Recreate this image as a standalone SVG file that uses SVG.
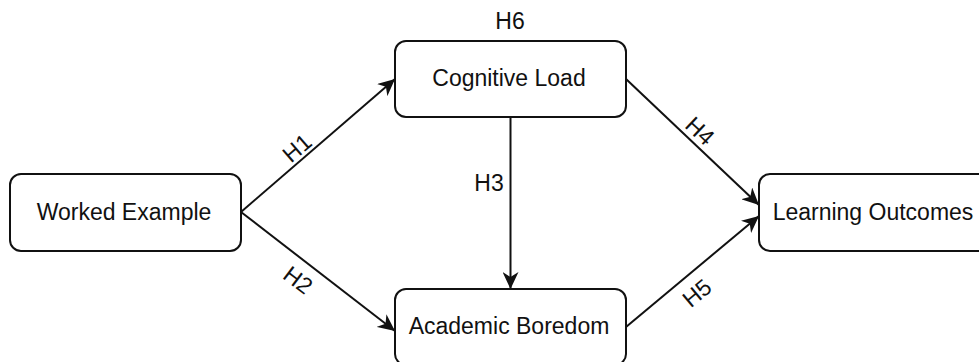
<svg xmlns="http://www.w3.org/2000/svg" width="979" height="362" viewBox="0 0 979 362">
<style>
.box{fill:#fff;stroke:#111;stroke-width:2}
.t{font-family:"Liberation Sans",Arial,sans-serif;font-size:23px;fill:#111;text-anchor:middle}
.e{stroke:#111;stroke-width:2;fill:none;marker-end:url(#arr)}
</style>
<defs>
<marker id="arr" markerUnits="userSpaceOnUse" markerWidth="18" markerHeight="16" viewBox="0 0 18 16" refX="17" refY="8" orient="auto">
<path d="M0,0 L17,8 L0,16 L5,8 Z" fill="#111"/>
</marker>
</defs>
<rect width="979" height="362" fill="#fff"/>
<g id="connectors">
<line class="e" x1="241" y1="212" x2="395" y2="79"/>
<line class="e" x1="241" y1="212" x2="395" y2="331"/>
<line class="e" x1="510.5" y1="117" x2="510.5" y2="289"/>
<line class="e" x1="626" y1="79" x2="759" y2="205"/>
<line class="e" x1="626" y1="327" x2="759" y2="216"/>
<text class="t" transform="translate(297,148) rotate(-40.8)" y="8">H1</text>
<text class="t" transform="translate(298,280) rotate(37.5)" y="8">H2</text>
<text class="t" x="489" y="191">H3</text>
<text class="t" transform="translate(700,131) rotate(43.5)" y="8">H4</text>
<text class="t" transform="translate(697,293) rotate(-39.8)" y="8">H5</text>
</g>
<g id="worked-example">
<rect class="box" x="10" y="174" width="231" height="77" rx="11"/>
<text class="t" x="124" y="220">Worked Example</text>
</g>
<g id="cognitive-load">
<rect class="box" x="395" y="41" width="231" height="76" rx="11"/>
<text class="t" x="509" y="86">Cognitive Load</text>
<text class="t" x="510" y="29">H6</text>
</g>
<g id="academic-boredom">
<rect class="box" x="395" y="289" width="231" height="76" rx="11"/>
<text class="t" x="509" y="334">Academic Boredom</text>
</g>
<g id="learning-outcomes">
<rect class="box" x="759" y="174" width="231" height="77" rx="11"/>
<text class="t" x="873" y="220">Learning Outcomes</text>
</g>
</svg>
